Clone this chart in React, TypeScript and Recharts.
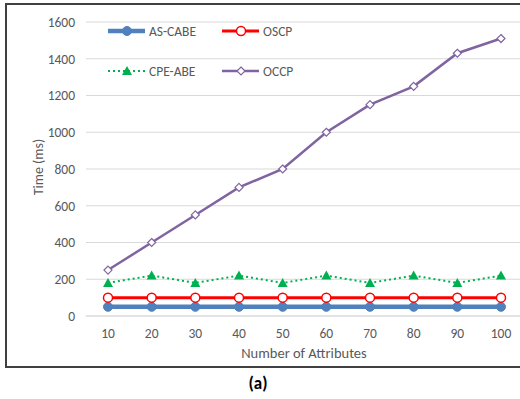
import React from 'react';
import { LineChart, Line, XAxis, YAxis, CartesianGrid } from 'recharts';

// Number of attributes on the x axis
const attributes = [10, 20, 30, 40, 50, 60, 70, 80, 90, 100];

// Computation time (ms) per scheme
const asCabe = [50, 50, 50, 50, 50, 50, 50, 50, 50, 50];
const oscp = [100, 100, 100, 100, 100, 100, 100, 100, 100, 100];
const cpeAbe = [180, 220, 180, 220, 180, 220, 180, 220, 180, 220];
const occp = [250, 400, 550, 700, 800, 1000, 1150, 1250, 1430, 1510];

const yTicks = [0, 200, 400, 600, 800, 1000, 1200, 1400, 1600];

const data = attributes.map((a, i) => ({
  name: String(a),
  asCabe: asCabe[i],
  oscp: oscp[i],
  cpeAbe: cpeAbe[i],
  occp: occp[i],
}));

const FONT = 'Carlito, Calibri, Lato, "Open Sans", sans-serif';
const TEXT = '#595959';

const BLUE = '#4F81BD';
const RED = '#FF0000';
const GREEN = '#00B050';
const PURPLE = '#8064A2';

type DotProps = { cx?: number; cy?: number; index?: number };

const BlueDot = ({ cx, cy, index }: DotProps) =>
  cx == null || cy == null ? null : <circle key={index} cx={cx} cy={cy} r={4.5} fill={BLUE} stroke={BLUE} />;

const RedDot = ({ cx, cy, index }: DotProps) =>
  cx == null || cy == null ? null : (
    <circle key={index} cx={cx} cy={cy} r={4.5} fill="#fff" stroke={RED} strokeWidth={1.5} />
  );

const GreenTri = ({ cx, cy, index }: DotProps) =>
  cx == null || cy == null ? null : (
    <path key={index} d={`M${cx},${cy - 5} L${cx + 5},${cy + 4} L${cx - 5},${cy + 4} Z`} fill={GREEN} />
  );

const PurpleDiamond = ({ cx, cy, index }: DotProps) =>
  cx == null || cy == null ? null : (
    <path
      key={index}
      d={`M${cx},${cy - 4} L${cx + 4},${cy} L${cx},${cy + 4} L${cx - 4},${cy} Z`}
      fill="#fff"
      stroke={PURPLE}
      strokeWidth={1.2}
    />
  );

type Series = {
  key: string;
  label: string;
  color: string;
  width: number;
  dash?: string;
  dot: (p: DotProps) => React.ReactElement | null;
};

const series: Series[] = [
  { key: 'asCabe', label: 'AS-CABE', color: BLUE, width: 4.5, dot: BlueDot },
  { key: 'oscp', label: 'OSCP', color: RED, width: 3, dot: RedDot },
  { key: 'cpeAbe', label: 'CPE-ABE', color: GREEN, width: 2, dash: '2 3', dot: GreenTri },
  { key: 'occp', label: 'OCCP', color: PURPLE, width: 2.5, dot: PurpleDiamond },
];

// 2x2 legend grid positions (column x, row y)
const legendCols = [108, 222];
const legendRows = [31, 71];

const LegendSwatches = () => (
  <g>
    {series.map((s, i) => {
      const x = legendCols[i % 2];
      const y = legendRows[Math.floor(i / 2)];
      const Dot = s.dot;
      return (
        <g key={s.key}>
          <line x1={x} y1={y} x2={x + 37} y2={y} stroke={s.color} strokeWidth={s.width} strokeDasharray={s.dash} />
          <Dot cx={x + 19} cy={y} />
          <text x={x + 41} y={y} dy="0.35em" fontSize={13.5} fill={TEXT} fontFamily={FONT}>
            {s.label}
          </text>
        </g>
      );
    })}
  </g>
);

export default function App() {
  return (
    <div style={{ position: 'absolute', left: 0, top: 0, width: 520, height: 399, overflow: 'hidden', background: '#fff' }}>
      <div
        style={{
          position: 'absolute',
          left: 5,
          top: 3,
          width: 540,
          height: 361,
          borderTop: '2px solid #404040',
          borderLeft: '2px solid #404040',
          borderBottom: '2px solid #404040',
        }}
      />
      <div style={{ position: 'absolute', left: 0, top: 0 }}>
        <LineChart width={530} height={399} data={data} margin={{ top: 22, right: 7, bottom: 53, left: 0 }}>
          <CartesianGrid vertical={false} stroke="#D9D9D9" />
          <XAxis
            dataKey="name"
            tickLine={false}
            axisLine={{ stroke: '#D9D9D9' }}
            tick={{ fontSize: 13.5, fill: TEXT, fontFamily: FONT }}
            tickMargin={6}
            height={30}
            interval={0}
            padding={{ left: 22, right: 22 }}
          />
          <YAxis
            domain={[0, 1600]}
            ticks={yTicks}
            width={86}
            tickLine={false}
            axisLine={false}
            tick={{ fontSize: 13.5, fill: TEXT, fontFamily: FONT }}
            tickMargin={5}
            interval={0}
          />
          {series.map((s) => (
            <Line
              key={s.key}
              dataKey={s.key}
              stroke={s.color}
              strokeWidth={s.width}
              strokeDasharray={s.dash}
              dot={s.dot}
              activeDot={false}
              isAnimationActive={false}
            />
          ))}
          <LegendSwatches />
          <text
            transform="translate(38,167) rotate(-90)"
            textAnchor="middle"
            dy="0.35em"
            fontSize={14}
            fill={TEXT}
            fontFamily={FONT}
          >
            Time (ms)
          </text>
          <text x={304} y={353} textAnchor="middle" dy="0.35em" fontSize={14.5} fill={TEXT} fontFamily={FONT}>
            Number of Attributes
          </text>
          <text x={258} y={383} textAnchor="middle" dy="0.35em" fontSize={17} fontWeight="bold" fill="#000" fontFamily={FONT}>
            (a)
          </text>
        </LineChart>
      </div>
    </div>
  );
}
